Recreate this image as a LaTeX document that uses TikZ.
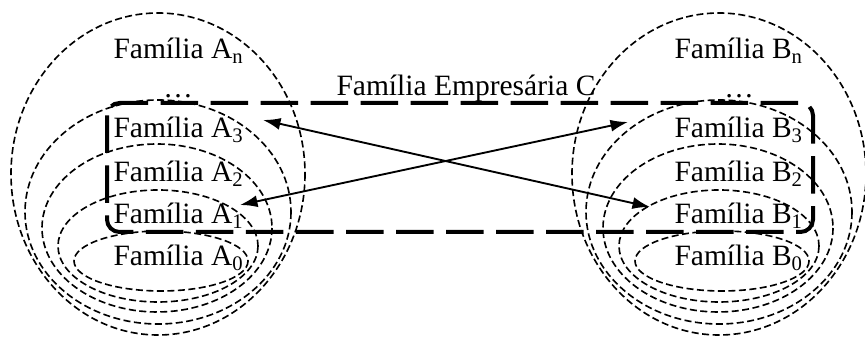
\documentclass[tikz,border=0pt]{standalone}
\usepackage{fontspec}
\setmainfont{Liberation Serif}
\usetikzlibrary{arrows.meta}
\tikzset{
    % rotulos das familias
    famNode/.style={
        anchor=base west, inner sep=0pt, font=\fontsize{11.8}{14}\selectfont
    },
    % conjuntos (elipses tracejadas)
    famEllipse/.style={
        draw=black, line width=0.65pt, dash pattern=on 2.8pt off 1.4pt
    },
    % caixa da familia empresaria
    groupBox/.style={
        draw=black, line width=1.6pt, dash pattern=on 15pt off 5pt,
        rounded corners=5pt
    },
    % setas
    conn/.style={
        {Latex[length=7pt,width=4.8pt]}-{Latex[length=7pt,width=4.8pt]},
        line width=0.75pt
    }
}

\begin{document}
\begin{tikzpicture}[x=0.4pt, y=-0.4pt]
	\useasboundingbox (0,0) rectangle (865,337);

	% 1. Conjuntos A e B
	\foreach \dx/\fam in {0/A, 561/B}{
		\begin{scope}[xshift=\dx*0.4pt]
			\draw[famEllipse] (158,174) ellipse [x radius=147, y radius=161];
			\draw[famEllipse] (158,212) ellipse [x radius=133, y radius=112];
			\draw[famEllipse] (157,228) ellipse [x radius=115, y radius=84];
			\draw[famEllipse] (158,246) ellipse [x radius=100, y radius=56];
			\draw[famEllipse] (161,261) ellipse [x radius=87, y radius=30];

			\node[famNode] (\fam n) at (113,59) {Família \fam\textsubscript{n}};
			\node[famNode, anchor=base] (\fam dots) at (178,98) {\dots};
			\node[famNode] (\fam 3) at (113,138) {Família \fam\textsubscript{3}};
			\node[famNode] (\fam 2) at (113,182) {Família \fam\textsubscript{2}};
			\node[famNode] (\fam 1) at (113,224) {Família \fam\textsubscript{1}};
			\node[famNode] (\fam 0) at (113,266) {Família \fam\textsubscript{0}};
		\end{scope}
	}

	% 2. Familia Empresaria C
	\draw[groupBox] (107,103) rectangle (813,232);
	\node[famNode] (C) at (336,96) {Família Empresária C};

	% 3. Setas
	\coordinate (a3end) at (263,120);
	\coordinate (b1end) at (650,207);
	\coordinate (a1end) at (240,205);
	\coordinate (b3end) at (628,122);
	\draw[conn] (a3end) -- (b1end);
	\draw[conn] (a1end) -- (b3end);

\end{tikzpicture}
\end{document}
